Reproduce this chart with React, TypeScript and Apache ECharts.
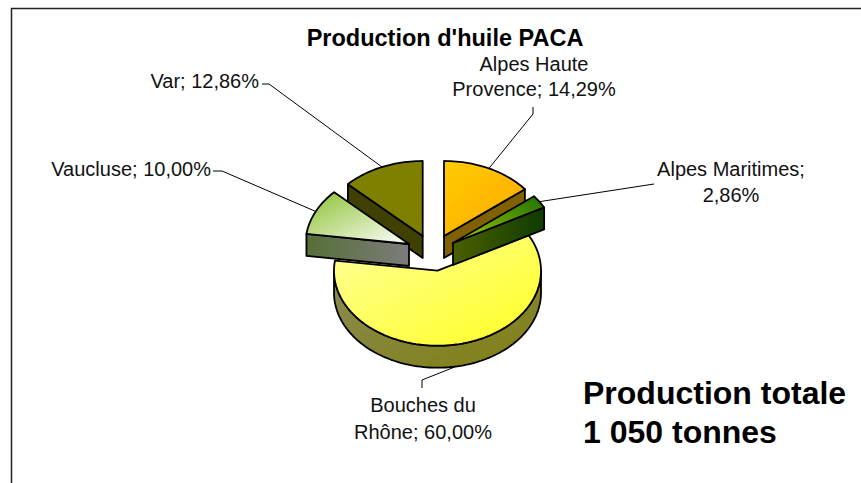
import React, { useEffect, useRef } from "react";
import * as echarts from "echarts";

const regions = ["Alpes Haute\nProvence", "Alpes Maritimes", "Bouches du\nRhône", "Vaucluse", "Var"];
const labelSeparators = ["; ", ";\n", "; ", "; ", "; "];
const tonnes = [150, 30, 630, 105, 135];
const chartTitle = "Production d'huile PACA";
const totalLines = "Production totale\n1 050 tonnes";

// Layout of the drawing, kept apart from the data.
const RX = 103.5;
const RY = 75;
const DEPTH = 22;
const apexes = [[444, 236], [453, 243], [437.5, 270.7], [409, 244], [422.7, 236]];
const drawOrder = [2, 4, 0, 1, 3];
const labelAnchors: any[] = [
  { x: 534, y: 76.5, align: "center", lh: 25 },
  { x: 731, y: 182, align: "center", lh: 26 },
  { x: 423, y: 418.5, align: "center", lh: 27 },
  { x: 211, y: 169, align: "right", lh: 26 },
  { x: 259, y: 81, align: "right", lh: 26 },
];
const leaderElbows = [
  [[533, 107], [533, 114]],
  [[654, 184]],
  [[422, 388], [422, 380]],
  [[213, 171], [222, 171]],
  [[262, 84], [269, 84]],
];

const grad = (x0: number, y0: number, x1: number, y1: number, a: string, b: string) =>
  new echarts.graphic.LinearGradient(x0, y0, x1, y1, [
    { offset: 0, color: a },
    { offset: 1, color: b },
  ]);

const topFills = [
  grad(0, 0, 1, 1, "#ffcc00", "#ffa800"),
  grad(1, 0, 0, 1, "#1f7000", "#a0cc00"),
  grad(0, 0, 1, 1, "#ffff99", "#ffff22"),
  grad(0, 0, 1, 1, "#8cc030", "#ffffff"),
  "#808000",
];
const wallFills = [
  "#806000",
  grad(0, 0, 1, 0, "#4a6000", "#0f3c00"),
  "#808000",
  grad(0, 0, 1, 0, "#566f36", "#7c7c7c"),
  "#404000",
];
const rimFill = grad(0, 0, 1, 1, "#8a8a58", "#808010");

const STROKE = "#000";
const total = tonnes.reduce((a, b) => a + b, 0);
const starts = tonnes.map((_, i) => tonnes.slice(0, i).reduce((a, b) => a + b, 0) / total);

const formatPct = (v: number) => ((v / total) * 100).toFixed(2).replace(".", ",") + "%";

function App() {
  const ref = useRef<HTMLDivElement>(null);
  useEffect(() => {
    document.body.style.margin = "0";
    document.body.style.background = "#fff";
    const chart = echarts.init(ref.current!, null, { renderer: "svg" });

    const renderItem = (_params: any, api: any) => {
      const i = api.value(0);
      const a0 = api.value(2) * Math.PI * 2;
      const a1 = a0 + (api.value(1) / total) * Math.PI * 2;
      const [cx, cy] = apexes[i];
      const pt = (a: number, dz = 0) => [cx + RX * Math.sin(a), cy - RY * Math.cos(a) + dz];
      const arc = (from: number, to: number, dz = 0) => {
        const n = Math.max(2, Math.ceil(Math.abs(to - from) / 0.03));
        const out: number[][] = [];
        for (let k = 0; k <= n; k++) out.push(pt(from + ((to - from) * k) / n, dz));
        return out;
      };
      const children: any[] = [];
      const lw = 1.8;
      const lo = Math.max(a0, Math.PI / 2);
      const hi = Math.min(a1, (Math.PI * 3) / 2);
      if (hi > lo) {
        children.push({
          type: "polygon",
          shape: { points: [...arc(lo, hi), ...arc(hi, lo, DEPTH)] },
          style: { fill: rimFill, stroke: STROKE, lineWidth: lw, lineJoin: "round" },
        });
      }
      const wall = (a: number) => {
        const p = pt(a);
        children.push({
          type: "polygon",
          shape: { points: [p, [cx, cy], [cx, cy + DEPTH], [p[0], p[1] + DEPTH]] },
          style: { fill: wallFills[i], stroke: STROKE, lineWidth: lw, lineJoin: "round" },
        });
      };
      if (Math.sin(a0) < -0.001) wall(a0);
      if (Math.sin(a1) > 0.001) wall(a1);
      children.push({
        type: "polygon",
        shape: { points: [[cx, cy], ...arc(a0, a1)] },
        style: { fill: topFills[i], stroke: STROKE, lineWidth: lw, lineJoin: "round" },
      });
      const mid = (a0 + a1) / 2;
      const below = Math.cos(mid) < 0;
      children.push({
        type: "polyline",
        shape: { points: [...leaderElbows[i], pt(mid, below ? DEPTH : 0)] },
        style: { fill: "none", stroke: "#000", lineWidth: 1 },
      });
      const lab = labelAnchors[i];
      children.push({
        type: "text",
        style: {
          text: regions[i] + labelSeparators[i] + formatPct(api.value(1)),
          x: lab.x,
          y: lab.y,
          align: lab.align,
          verticalAlign: "middle",
          fontFamily: "Liberation Sans",
          fontSize: 20,
          lineHeight: lab.lh,
          fill: "#111",
        },
      });
      return { type: "group", children };
    };

    chart.setOption({
      animation: false,
      backgroundColor: "#fff",
      title: {
        text: chartTitle,
        left: 440,
        top: 21,
        textAlign: "center",
        textStyle: { fontFamily: "Liberation Sans", fontWeight: "bold", fontSize: 23.5, color: "#000" },
      },
      graphic: [
        {
          type: "polyline",
          shape: { points: [[11.5, 483], [11.5, 8.5], [861, 8.5]] },
          style: { fill: "none", stroke: "#222", lineWidth: 1.5 },
        },
        {
          type: "text",
          x: 583,
          y: 412.5,
          style: {
            text: totalLines,
            fontFamily: "Liberation Sans",
            fontWeight: "bold",
            fontSize: 32,
            lineHeight: 39,
            fill: "#000",
            verticalAlign: "middle",
          },
        },
      ],
      series: [
        {
          type: "custom",
          coordinateSystem: "none",
          silent: true,
          clip: false,
          renderItem,
          data: drawOrder.map((i) => ({ name: regions[i], value: [i, tonnes[i], starts[i]] })),
        },
      ],
    });
    return () => chart.dispose();
  }, []);
  return <div ref={ref} style={{ width: 861, height: 483 }} />;
}

export default App;
